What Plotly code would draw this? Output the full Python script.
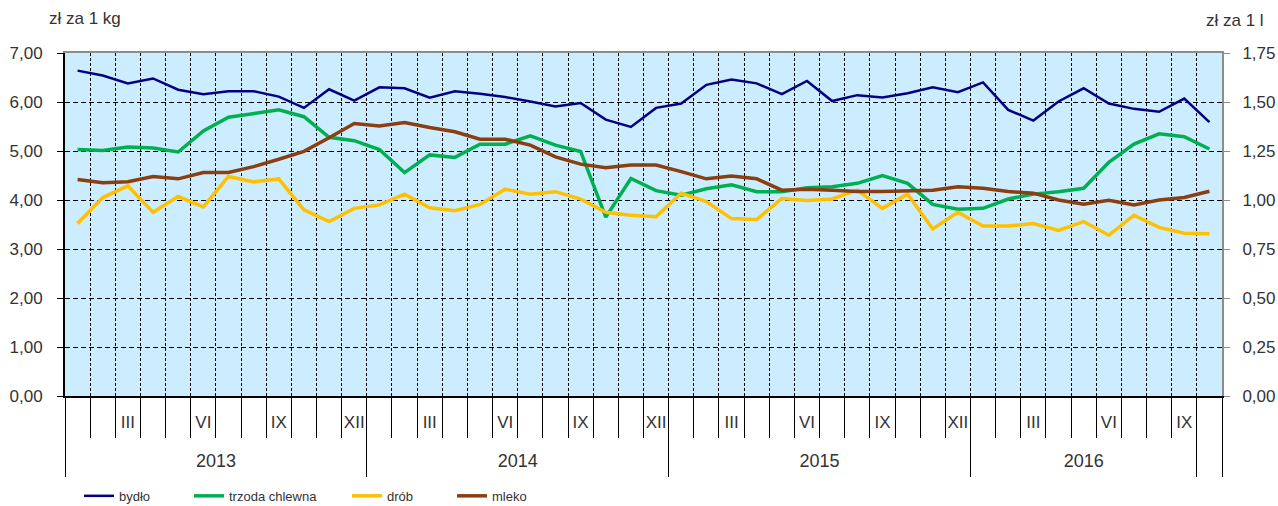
import plotly.graph_objects as go

# ---- data ----
months_per_year = 12
years = ["2013", "2014", "2015", "2016"]
month_labels = ["", "", "III", "", "", "VI", "", "", "IX", "", "", "XII"]
n_months = 46  # I 2013 .. X 2016

bydlo = [6.64, 6.54, 6.38, 6.48, 6.25, 6.16, 6.22, 6.22, 6.11, 5.88, 6.26, 6.03,
         6.30, 6.28, 6.09, 6.22, 6.17, 6.10, 6.01, 5.91, 5.98, 5.64, 5.49, 5.88,
         5.97, 6.35, 6.46, 6.38, 6.16, 6.43, 6.02, 6.14, 6.09, 6.18, 6.30, 6.20,
         6.40, 5.84, 5.62, 6.01, 6.28, 5.97, 5.86, 5.80, 6.07, 5.59]
trzoda = [5.03, 5.01, 5.08, 5.06, 4.98, 5.41, 5.69, 5.77, 5.84, 5.70, 5.28, 5.21,
          5.03, 4.56, 4.92, 4.87, 5.14, 5.14, 5.31, 5.12, 4.99, 3.65, 4.44, 4.19,
          4.10, 4.23, 4.31, 4.17, 4.17, 4.25, 4.27, 4.34, 4.50, 4.34, 3.91, 3.81,
          3.83, 4.02, 4.12, 4.17, 4.24, 4.77, 5.14, 5.35, 5.29, 5.04]
drob = [3.52, 4.05, 4.29, 3.75, 4.07, 3.86, 4.48, 4.37, 4.43, 3.80, 3.56, 3.83,
        3.90, 4.12, 3.84, 3.78, 3.91, 4.22, 4.12, 4.17, 4.02, 3.75, 3.69, 3.66,
        4.14, 3.97, 3.62, 3.60, 4.03, 3.99, 4.02, 4.20, 3.83, 4.12, 3.41, 3.75,
        3.47, 3.47, 3.52, 3.38, 3.56, 3.28, 3.69, 3.44, 3.32, 3.31]
mleko = [1.105, 1.088, 1.093, 1.120, 1.108, 1.140, 1.140, 1.170, 1.208, 1.248, 1.318, 1.390,
         1.378, 1.395, 1.370, 1.348, 1.310, 1.310, 1.280, 1.220, 1.183, 1.165, 1.178, 1.178,
         1.145, 1.108, 1.123, 1.108, 1.050, 1.055, 1.050, 1.043, 1.043, 1.048, 1.050, 1.068,
         1.060, 1.043, 1.035, 1.000, 0.978, 0.998, 0.975, 1.000, 1.013, 1.045]

left_ticks = [0, 1, 2, 3, 4, 5, 6, 7]
right_ticks = [0, 0.25, 0.5, 0.75, 1.0, 1.25, 1.5, 1.75]

series_names = ["bydło", "trzoda chlewna", "drób", "mleko"]
series_colors = ["#000080", "#00B050", "#FFC000", "#8B3E0F"]

# ---- derived positions (category index space) ----
x = list(range(n_months))
xr = [-0.5, n_months - 0.5]
boundaries = [i - 0.5 for i in range(n_months + 1)]
lab_vals, lab_text = [], []
for i in range(n_months):
    t = month_labels[i % months_per_year]
    if t:
        lab_vals.append(i)
        lab_text.append(t)
year_bounds = [-0.5, 11.5, 23.5, 35.5, 44.5, 45.5]
year_centers = [(year_bounds[k] + year_bounds[k + 1]) / 2 for k in range(4)]

FONT = "Liberation Sans, Arial, sans-serif"
TXT = "#333333"

fig = go.Figure()
data = [bydlo, trzoda, drob, mleko]
widths = [2.5, 3.5, 3.5, 3.5]
for k in range(4):
    fig.add_trace(go.Scatter(
        x=x, y=data[k], mode="lines", name=series_names[k],
        line=dict(color=series_colors[k], width=widths[k]),
        yaxis="y2" if k == 3 else "y",
        legend="legend" if k == 0 else "legend%d" % (k + 1),
    ))
# empty traces to host the overlay axes
for ax in ["x2", "x3", "x4", "x5"]:
    fig.add_trace(go.Scatter(x=[], y=[], xaxis=ax, showlegend=False, hoverinfo="skip"))

fig.update_layout(
    width=1278, height=506,
    margin=dict(l=65, r=56, t=53, b=110),
    paper_bgcolor="white", plot_bgcolor="#CCECFF",
    separators=", ",
    font=dict(family=FONT, size=17, color=TXT),
    xaxis=dict(range=xr, tickmode="array", tickvals=boundaries, showticklabels=False,
               ticks="outside", ticklen=40, tickcolor="black", tickwidth=1.3,
               showgrid=True, gridcolor="black", gridwidth=1, griddash="3px,2px",
               showline=True, linecolor="black", linewidth=2, zeroline=False,
               automargin=False),
    xaxis2=dict(range=xr, overlaying="x", side="top", anchor="y", showline=True,
                linecolor="#8c8c8c", linewidth=2, ticks="", showticklabels=False,
                showgrid=False, zeroline=False, automargin=False),
    xaxis3=dict(range=xr, overlaying="x", side="bottom", anchor="y", tickmode="array",
                tickvals=lab_vals, ticktext=lab_text, ticks="", showgrid=False,
                showline=False, zeroline=False, ticklabelstandoff=14,
                tickfont=dict(size=17), automargin=False),
    xaxis4=dict(range=xr, overlaying="x", side="bottom", anchor="y", tickmode="array",
                tickvals=year_bounds, showticklabels=False, ticks="outside", ticklen=80,
                tickcolor="black", tickwidth=1.3, showgrid=False, showline=False,
                zeroline=False, automargin=False),
    xaxis5=dict(range=xr, overlaying="x", side="bottom", anchor="y", tickmode="array",
                tickvals=year_centers, ticktext=years, ticks="", showgrid=False,
                showline=False, zeroline=False, ticklabelstandoff=52,
                tickfont=dict(size=18), automargin=False),
    yaxis=dict(range=[0, 7], tickmode="array", tickvals=left_ticks, tickformat=".2f",
               ticks="outside", ticklen=6, tickcolor="black", showgrid=True,
               gridcolor="black", gridwidth=1, griddash="5px,3px", showline=True,
               linecolor="black", linewidth=2, zeroline=False, ticklabelstandoff=11,
               automargin=False),
    yaxis2=dict(range=[0, 1.75], overlaying="y", side="right", tickmode="array",
                tickvals=right_ticks, tickformat=".2f", ticks="outside", ticklen=6,
                tickcolor="#8c8c8c", showgrid=False, showline=True, linecolor="#8c8c8c",
                linewidth=2, zeroline=False, ticklabelstandoff=9, automargin=False),
    annotations=[
        dict(text="zł za 1 kg", xref="paper", yref="paper", x=0.0173, y=1.102,
             xanchor="center", yanchor="middle", showarrow=False, font=dict(size=17)),
        dict(text="zł za 1 l", xref="paper", yref="paper", x=1.011, y=1.096,
             xanchor="center", yanchor="middle", showarrow=False, font=dict(size=17)),
    ],
    showlegend=True,
)
leg_x = [79, 189, 347, 452]
for k in range(4):
    key = "legend" if k == 0 else "legend%d" % (k + 1)
    fig.update_layout({key: dict(xref="container", yref="container", x=leg_x[k] / 1278.0,
                                 xanchor="left", y=0.02, yanchor="middle",
                                 orientation="h", bgcolor="rgba(0,0,0,0)",
                                 font=dict(size=13, color=TXT))})

fig.write_html("out.html", config={"displayModeBar": False},
               post_script="document.body.style.margin='0';")
